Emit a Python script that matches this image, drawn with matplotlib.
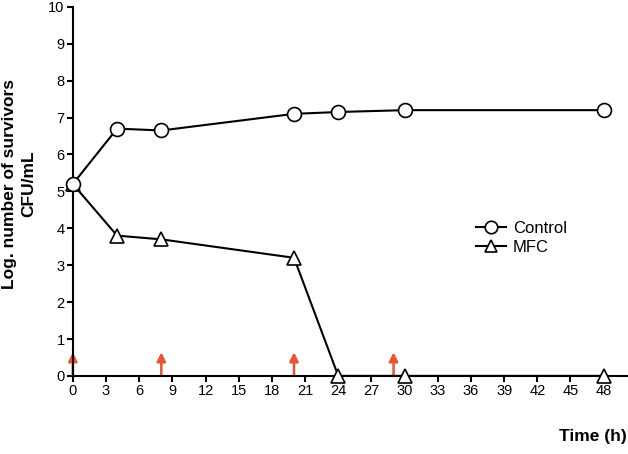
import matplotlib
matplotlib.use("Agg")
import matplotlib.pyplot as plt

plt.rcParams["font.family"] = ["Liberation Sans", "DejaVu Sans"]

time_control = [0, 4, 8, 20, 24, 30, 48]
control = [5.2, 6.7, 6.65, 7.1, 7.15, 7.2, 7.2]
time_mfc = [0, 4, 8, 20, 24, 30, 48]
mfc = [5.2, 3.8, 3.7, 3.2, 0, 0, 0]
dose_times = [0, 8, 20, 29]
x_ticks = list(range(0, 49, 3))
y_ticks = list(range(0, 11))

fig = plt.figure(figsize=(6.28, 4.54), dpi=100)
ax = fig.add_axes([0.116, 0.172, 0.884, 0.813])

ax.plot(time_mfc, mfc, color="black", lw=1.5, marker="^", ms=10,
        mfc="white", mec="black", mew=1.2, label="MFC", zorder=3, clip_on=False)
ax.plot(time_control, control, color="black", lw=1.5, marker="o", ms=10,
        mfc="white", mec="black", mew=1.2, label="Control", zorder=4, clip_on=False)

for t in dose_times:
    ax.annotate("", xy=(t, 0.64), xytext=(t, 0),
                arrowprops=dict(arrowstyle="-|>", color="#e8552e", lw=1.8,
                                mutation_scale=13, shrinkA=0, shrinkB=0),
                zorder=2)

ax.set_xlim(0, 50.2)
ax.set_ylim(0, 10)
ax.set_xticks(x_ticks)
ax.set_yticks(y_ticks)
ax.tick_params(direction="out", length=4, width=1.5, labelsize=10.5, pad=2)
for s in ["top", "right"]:
    ax.spines[s].set_visible(False)
for s in ["left", "bottom"]:
    ax.spines[s].set_linewidth(1.5)

ax.set_ylabel("Log. number of survivors\nCFU/mL", fontsize=12.5, fontweight="bold",
              linespacing=1.35)
ax.yaxis.set_label_coords(-0.066, 0.52)
fig.text(0.998, 0.022, "Time (h)", ha="right", va="bottom", fontsize=12.5,
         fontweight="bold")

handles, labels = ax.get_legend_handles_labels()
ax.legend(handles[::-1], labels[::-1], loc="upper left",
          bbox_to_anchor=(0.70, 0.46), frameon=False, fontsize=12,
          handlelength=1.8, handletextpad=0.4, labelspacing=0.25, markerscale=0.9)

fig.savefig("out.png", dpi=100)
